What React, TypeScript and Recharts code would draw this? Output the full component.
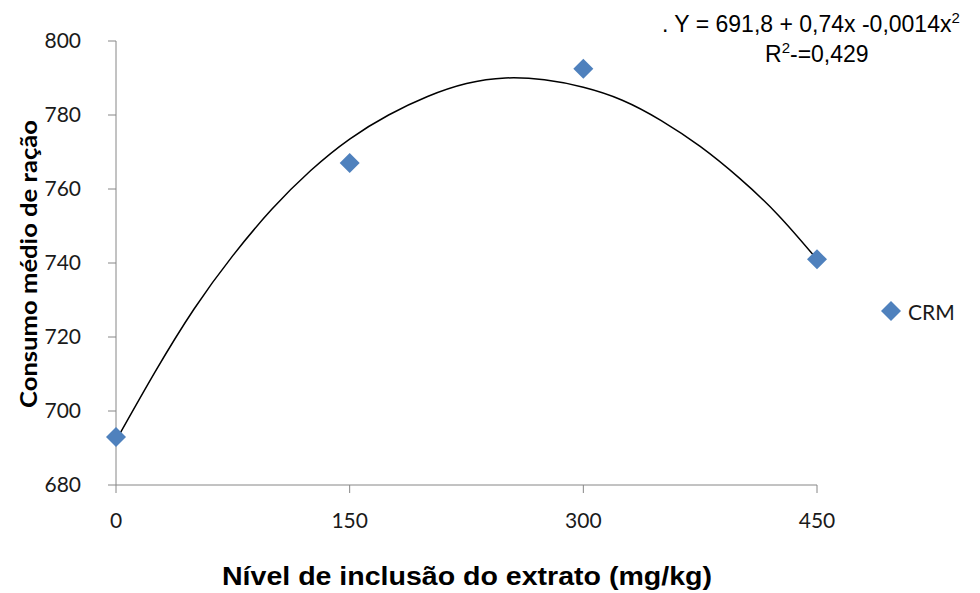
import React from "react";
import {
  ComposedChart,
  Line,
  Scatter,
  XAxis,
  YAxis,
  Customized,
} from "recharts";

const levels = [0, 150, 300, 450];
const crmValues = [693, 767, 792.5, 741];

const trendLevels = [0, 25, 50, 75, 100, 125, 150, 175, 200, 225, 250, 275, 300, 325, 350, 375, 400, 425, 450];
const trendValues = [692, 710.5, 727.5, 742, 754.5, 765, 773.5, 780, 785, 788.5, 790, 789.5, 787.5, 784, 778.5, 771.5, 763, 753, 741];

const xTicks = [0, 150, 300, 450];
const yTicks = [680, 700, 720, 740, 760, 780, 800];

const seriesName = "CRM";
const xTitle = "Nível de inclusão do extrato (mg/kg)";
const yTitle = "Consumo médio de ração";

const pointData = levels.map((x, i) => ({ x, y: crmValues[i] }));
const trendData = trendLevels.map((x, i) => ({ x, y: trendValues[i] }));

const BLUE = "#4F81BD";
const AXIS = "#868686";
const TICK_FONT = "Lato, 'Open Sans', sans-serif";
const ARIAL = "'Liberation Sans', Arial, sans-serif";

const Diamond = (props: any) => {
  const { cx, cy } = props;
  if (cx == null || cy == null) return null;
  const r = 10;
  return (
    <polygon
      points={`${cx},${cy - r} ${cx + r},${cy} ${cx},${cy + r} ${cx - r},${cy}`}
      fill={BLUE}
    />
  );
};

const Annotations = () => (
  <g>
    <text x={662} y={32} fontFamily={ARIAL} fontSize={23} fill="#000">
      . Y = 691,8 + 0,74x -0,0014x
      <tspan dy={-9} fontSize={15}>2</tspan>
    </text>
    <text x={765} y={62} fontFamily={ARIAL} fontSize={23} fill="#000">
      R<tspan dy={-9} fontSize={15}>2</tspan>
      <tspan dy={9}>-=0,429</tspan>
    </text>
    <polygon points="891,301 901,311 891,321 881,311" fill={BLUE} />
    <text x={908} y={320} fontFamily={TICK_FONT} fontSize={21} fill="#1a1a1a">
      {seriesName}
    </text>
    <text
      x={467}
      y={585}
      textAnchor="middle"
      fontFamily={ARIAL}
      fontWeight="bold"
      fontSize={25}
      fill="#000"
      textLength={490}
      lengthAdjust="spacingAndGlyphs"
    >
      {xTitle}
    </text>
    <text
      x={0}
      y={0}
      transform="translate(37, 264) rotate(-90)"
      textAnchor="middle"
      fontFamily={TICK_FONT}
      fontWeight="bold"
      fontSize={22}
      fill="#000"
      textLength={288}
      lengthAdjust="spacingAndGlyphs"
    >
      {yTitle}
    </text>
  </g>
);

export default function App() {
  return (
    <div style={{ position: "absolute", left: 0, top: 0, background: "#fff" }}>
      <ComposedChart
        width={980}
        height={593}
        margin={{ top: 41, right: 163, bottom: 0, left: 0 }}
      >
        <XAxis
          dataKey="x"
          type="number"
          domain={[0, 450]}
          ticks={xTicks}
          height={108}
          tickSize={8}
          tickMargin={20}
          stroke={AXIS}
          tick={{ fill: "#1a1a1a", fontSize: 21, fontFamily: TICK_FONT }}
        />
        <YAxis
          dataKey="y"
          type="number"
          domain={[680, 800]}
          ticks={yTicks}
          width={116}
          tickSize={8}
          tickMargin={27}
          stroke={AXIS}
          tick={{ fill: "#1a1a1a", fontSize: 21, fontFamily: TICK_FONT }}
        />
        <Line
          data={trendData}
          dataKey="y"
          type="natural"
          stroke="#000"
          strokeWidth={1.5}
          dot={false}
          activeDot={false}
          isAnimationActive={false}
          legendType="none"
        />
        <Scatter
          data={pointData}
          dataKey="y"
          name={seriesName}
          fill={BLUE}
          shape={<Diamond />}
          isAnimationActive={false}
        />
        <Customized component={Annotations} />
      </ComposedChart>
    </div>
  );
}
